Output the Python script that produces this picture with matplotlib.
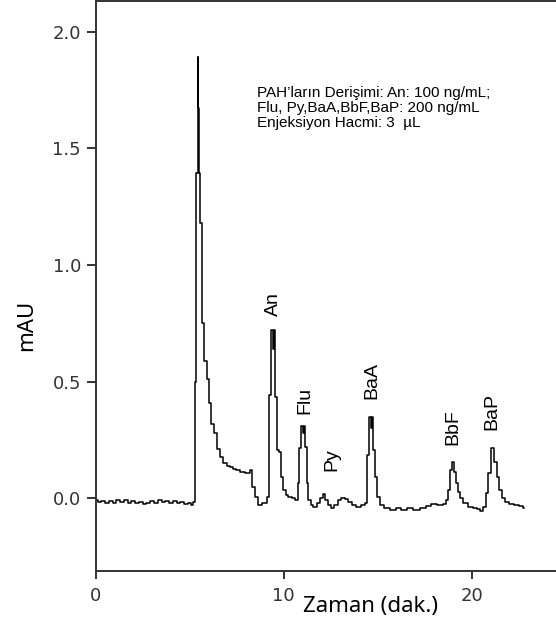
import matplotlib
matplotlib.use("Agg")
import matplotlib.pyplot as plt

# Chromatogram trace: retention time (min) and detector signal (mAU)
time_min = [
    0.00, 0.20, 0.40, 0.60, 0.80, 1.00, 1.20, 1.40, 1.60, 1.80,
    2.00, 2.20, 2.40, 2.60, 2.80, 3.00, 3.20, 3.40, 3.60, 3.80,
    4.00, 4.20, 4.40, 4.60, 4.80, 5.00, 5.10, 5.20, 5.28,
    5.31, 5.39, 5.45, 5.48, 5.52, 5.60, 5.72, 5.85, 5.96, 6.08,
    6.20, 6.35, 6.52, 6.70, 6.88, 7.05, 7.23, 7.40, 7.57, 7.80,
    8.10, 8.30, 8.37, 8.56, 8.74, 9.00, 9.18, 9.27, 9.39, 9.47,
    9.52, 9.59, 9.71, 9.80, 9.89, 10.07, 10.16, 10.34, 10.51, 10.69,
    10.78, 10.87, 10.98, 11.06, 11.12, 11.19, 11.26, 11.36, 11.49, 11.66,
    11.84, 12.02, 12.14, 12.29, 12.43, 12.61, 12.78, 12.96, 13.17, 13.35,
    13.53, 13.70, 13.97, 14.23, 14.41, 14.50, 14.60, 14.68, 14.74, 14.80,
    14.91, 15.03, 15.21, 15.48, 15.83, 16.10, 16.36, 16.72, 17.07, 17.43,
    17.69, 17.96, 18.31, 18.58, 18.70, 18.81, 18.90, 19.02, 19.11, 19.20,
    19.32, 19.47, 19.64, 19.91, 20.18, 20.35, 20.53, 20.71, 20.83, 20.94,
    21.12, 21.29, 21.41, 21.54, 21.68, 21.86, 22.13, 22.39, 22.66, 22.78,
]
signal_mau = [
    -0.005, -0.015, -0.010, -0.020, -0.012, -0.018, -0.008, -0.014, -0.005, -0.020,
    -0.012, -0.022, -0.015, -0.025, -0.018, -0.012, -0.020, -0.008, -0.015, -0.010,
    -0.018, -0.012, -0.020, -0.015, -0.025, -0.020, -0.030, -0.015, -0.015,
    0.500, 1.394, 1.893, 1.672, 1.394, 1.180, 0.750, 0.590, 0.510, 0.410,
    0.320, 0.280, 0.210, 0.178, 0.150, 0.140, 0.135, 0.125, 0.120, 0.112,
    0.108, 0.120, 0.050, 0.007, -0.030, -0.020, 0.007, 0.443, 0.720, 0.640,
    0.720, 0.435, 0.207, 0.200, 0.093, 0.036, 0.014, 0.007, 0.000, -0.007,
    0.065, 0.214, 0.310, 0.280, 0.310, 0.220, 0.065, -0.007, -0.029, -0.036,
    -0.020, 0.000, 0.017, -0.007, -0.029, -0.043, -0.029, -0.007, 0.000, -0.003,
    -0.014, -0.029, -0.036, -0.030, -0.021, 0.186, 0.350, 0.300, 0.350, 0.207,
    0.093, 0.007, -0.029, -0.043, -0.050, -0.043, -0.050, -0.043, -0.050, -0.043,
    -0.033, -0.025, -0.029, -0.025, -0.007, 0.036, 0.120, 0.154, 0.114, 0.064,
    0.028, 0.000, -0.021, -0.036, -0.040, -0.047, -0.053, -0.036, 0.021, 0.107,
    0.214, 0.157, 0.093, 0.036, 0.000, -0.014, -0.025, -0.029, -0.033, -0.043,
]

# Peak names and where their labels sit (time, mAU)
peak_names = ["An", "Flu", "Py", "BaA", "BbF", "BaP"]
label_time = [9.46, 11.13, 12.57, 14.67, 19.00, 21.05]
label_mau = [0.833, 0.420, 0.164, 0.507, 0.306, 0.374]

x_ticks = [0, 10, 20]
y_ticks = [0.0, 0.5, 1.0, 1.5, 2.0]

info_text = ("PAH\u2019ların Derişimi: An: 100 ng/mL;\n"
             "Flu, Py,BaA,BbF,BaP: 200 ng/mL\n"
             "Enjeksiyon Hacmi: 3  \u00b5L")

fig = plt.figure(figsize=(5.56, 6.32), dpi=100)
ax = fig.add_axes([0.1721, 0.0970, 1 - 0.1721, 0.9014])

ax.plot(time_min, signal_mau, color="black", lw=1.1, drawstyle="steps-mid")

ax.set_xlim(0, 24.48)
ax.set_ylim(-0.310, 2.131)

spine_color = "#333333"
for side in ("left", "bottom", "top"):
    ax.spines[side].set_color(spine_color)
    ax.spines[side].set_linewidth(1.4)
ax.spines["right"].set_visible(False)

ax.set_xticks(x_ticks)
ax.set_xticklabels([str(v) for v in x_ticks])
ax.set_yticks(y_ticks)
ax.set_yticklabels([f"{v:.1f}" for v in y_ticks])
ax.tick_params(axis="both", direction="out", color=spine_color, width=1.4,
               labelcolor="#333333", labelsize=13)
ax.tick_params(axis="x", length=6, pad=6)
ax.tick_params(axis="y", length=6.5, pad=4)
ax.tick_params(top=False, right=False)

ax.set_ylabel("mAU", fontsize=16, family="Noto Sans")
ax.yaxis.set_label_coords(-0.128, 0.43)
ax.set_xlabel("Zaman (dak.)", fontsize=16, family="Noto Sans")
ax.xaxis.set_label_coords(0.598, -0.045)

for name, tx, ty in zip(peak_names, label_time, label_mau):
    ax.text(tx, ty, name, rotation=90, ha="center", va="center",
            fontsize=14, family="Liberation Sans")

ax.text(8.6, 1.765, info_text, ha="left", va="top", fontsize=11,
        family="Liberation Sans", linespacing=1.07)

fig.savefig("out.png", dpi=100)
